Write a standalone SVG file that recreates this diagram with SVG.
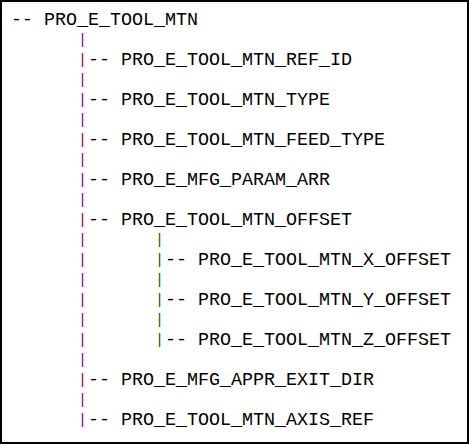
<svg xmlns="http://www.w3.org/2000/svg" width="469" height="444" viewBox="0 0 469 444">
<style>
text{font-family:"Liberation Mono","Courier New",monospace;font-size:18.33px;fill:#000}
.p,.g{font-size:15px}
.p{fill:#800070}
.g{fill:#006600}
</style>
<rect x="0" y="0" width="469" height="444" fill="#fff"/>
<rect x="1" y="1" width="467" height="442" fill="none" stroke="#000" stroke-width="2"/>
<g id="connectors">
<text class="p" x="78" y="44">|</text>
<text class="p" x="78" y="64">|</text>
<text class="p" x="78" y="84">|</text>
<text class="p" x="78" y="104">|</text>
<text class="p" x="78" y="124">|</text>
<text class="p" x="78" y="144">|</text>
<text class="p" x="78" y="164">|</text>
<text class="p" x="78" y="184">|</text>
<text class="p" x="78" y="204">|</text>
<text class="p" x="78" y="224">|</text>
<text class="p" x="78" y="244">|</text>
<text class="p" x="78" y="264">|</text>
<text class="p" x="78" y="284">|</text>
<text class="p" x="78" y="304">|</text>
<text class="p" x="78" y="324">|</text>
<text class="p" x="78" y="344">|</text>
<text class="p" x="78" y="364">|</text>
<text class="p" x="78" y="384">|</text>
<text class="p" x="78" y="404">|</text>
<text class="p" x="78" y="424">|</text>
<text class="g" x="155" y="244">|</text>
<text class="g" x="155" y="264">|</text>
<text class="g" x="155" y="284">|</text>
<text class="g" x="155" y="304">|</text>
<text class="g" x="155" y="324">|</text>
<text class="g" x="155" y="344">|</text>
</g>
<g id="n-root"><text x="11" y="25">-- PRO_E_TOOL_MTN</text></g>
<g id="n-ref-id"><text x="88" y="65">-- PRO_E_TOOL_MTN_REF_ID</text></g>
<g id="n-type"><text x="88" y="105">-- PRO_E_TOOL_MTN_TYPE</text></g>
<g id="n-feed-type"><text x="88" y="145">-- PRO_E_TOOL_MTN_FEED_TYPE</text></g>
<g id="n-param-arr"><text x="88" y="185">-- PRO_E_MFG_PARAM_ARR</text></g>
<g id="n-offset"><text x="88" y="225">-- PRO_E_TOOL_MTN_OFFSET</text></g>
<g id="n-x-offset"><text x="165" y="265">-- PRO_E_TOOL_MTN_X_OFFSET</text></g>
<g id="n-y-offset"><text x="165" y="305">-- PRO_E_TOOL_MTN_Y_OFFSET</text></g>
<g id="n-z-offset"><text x="165" y="345">-- PRO_E_TOOL_MTN_Z_OFFSET</text></g>
<g id="n-appr-exit"><text x="88" y="385">-- PRO_E_MFG_APPR_EXIT_DIR</text></g>
<g id="n-axis-ref"><text x="88" y="425">-- PRO_E_TOOL_MTN_AXIS_REF</text></g>
</svg>
